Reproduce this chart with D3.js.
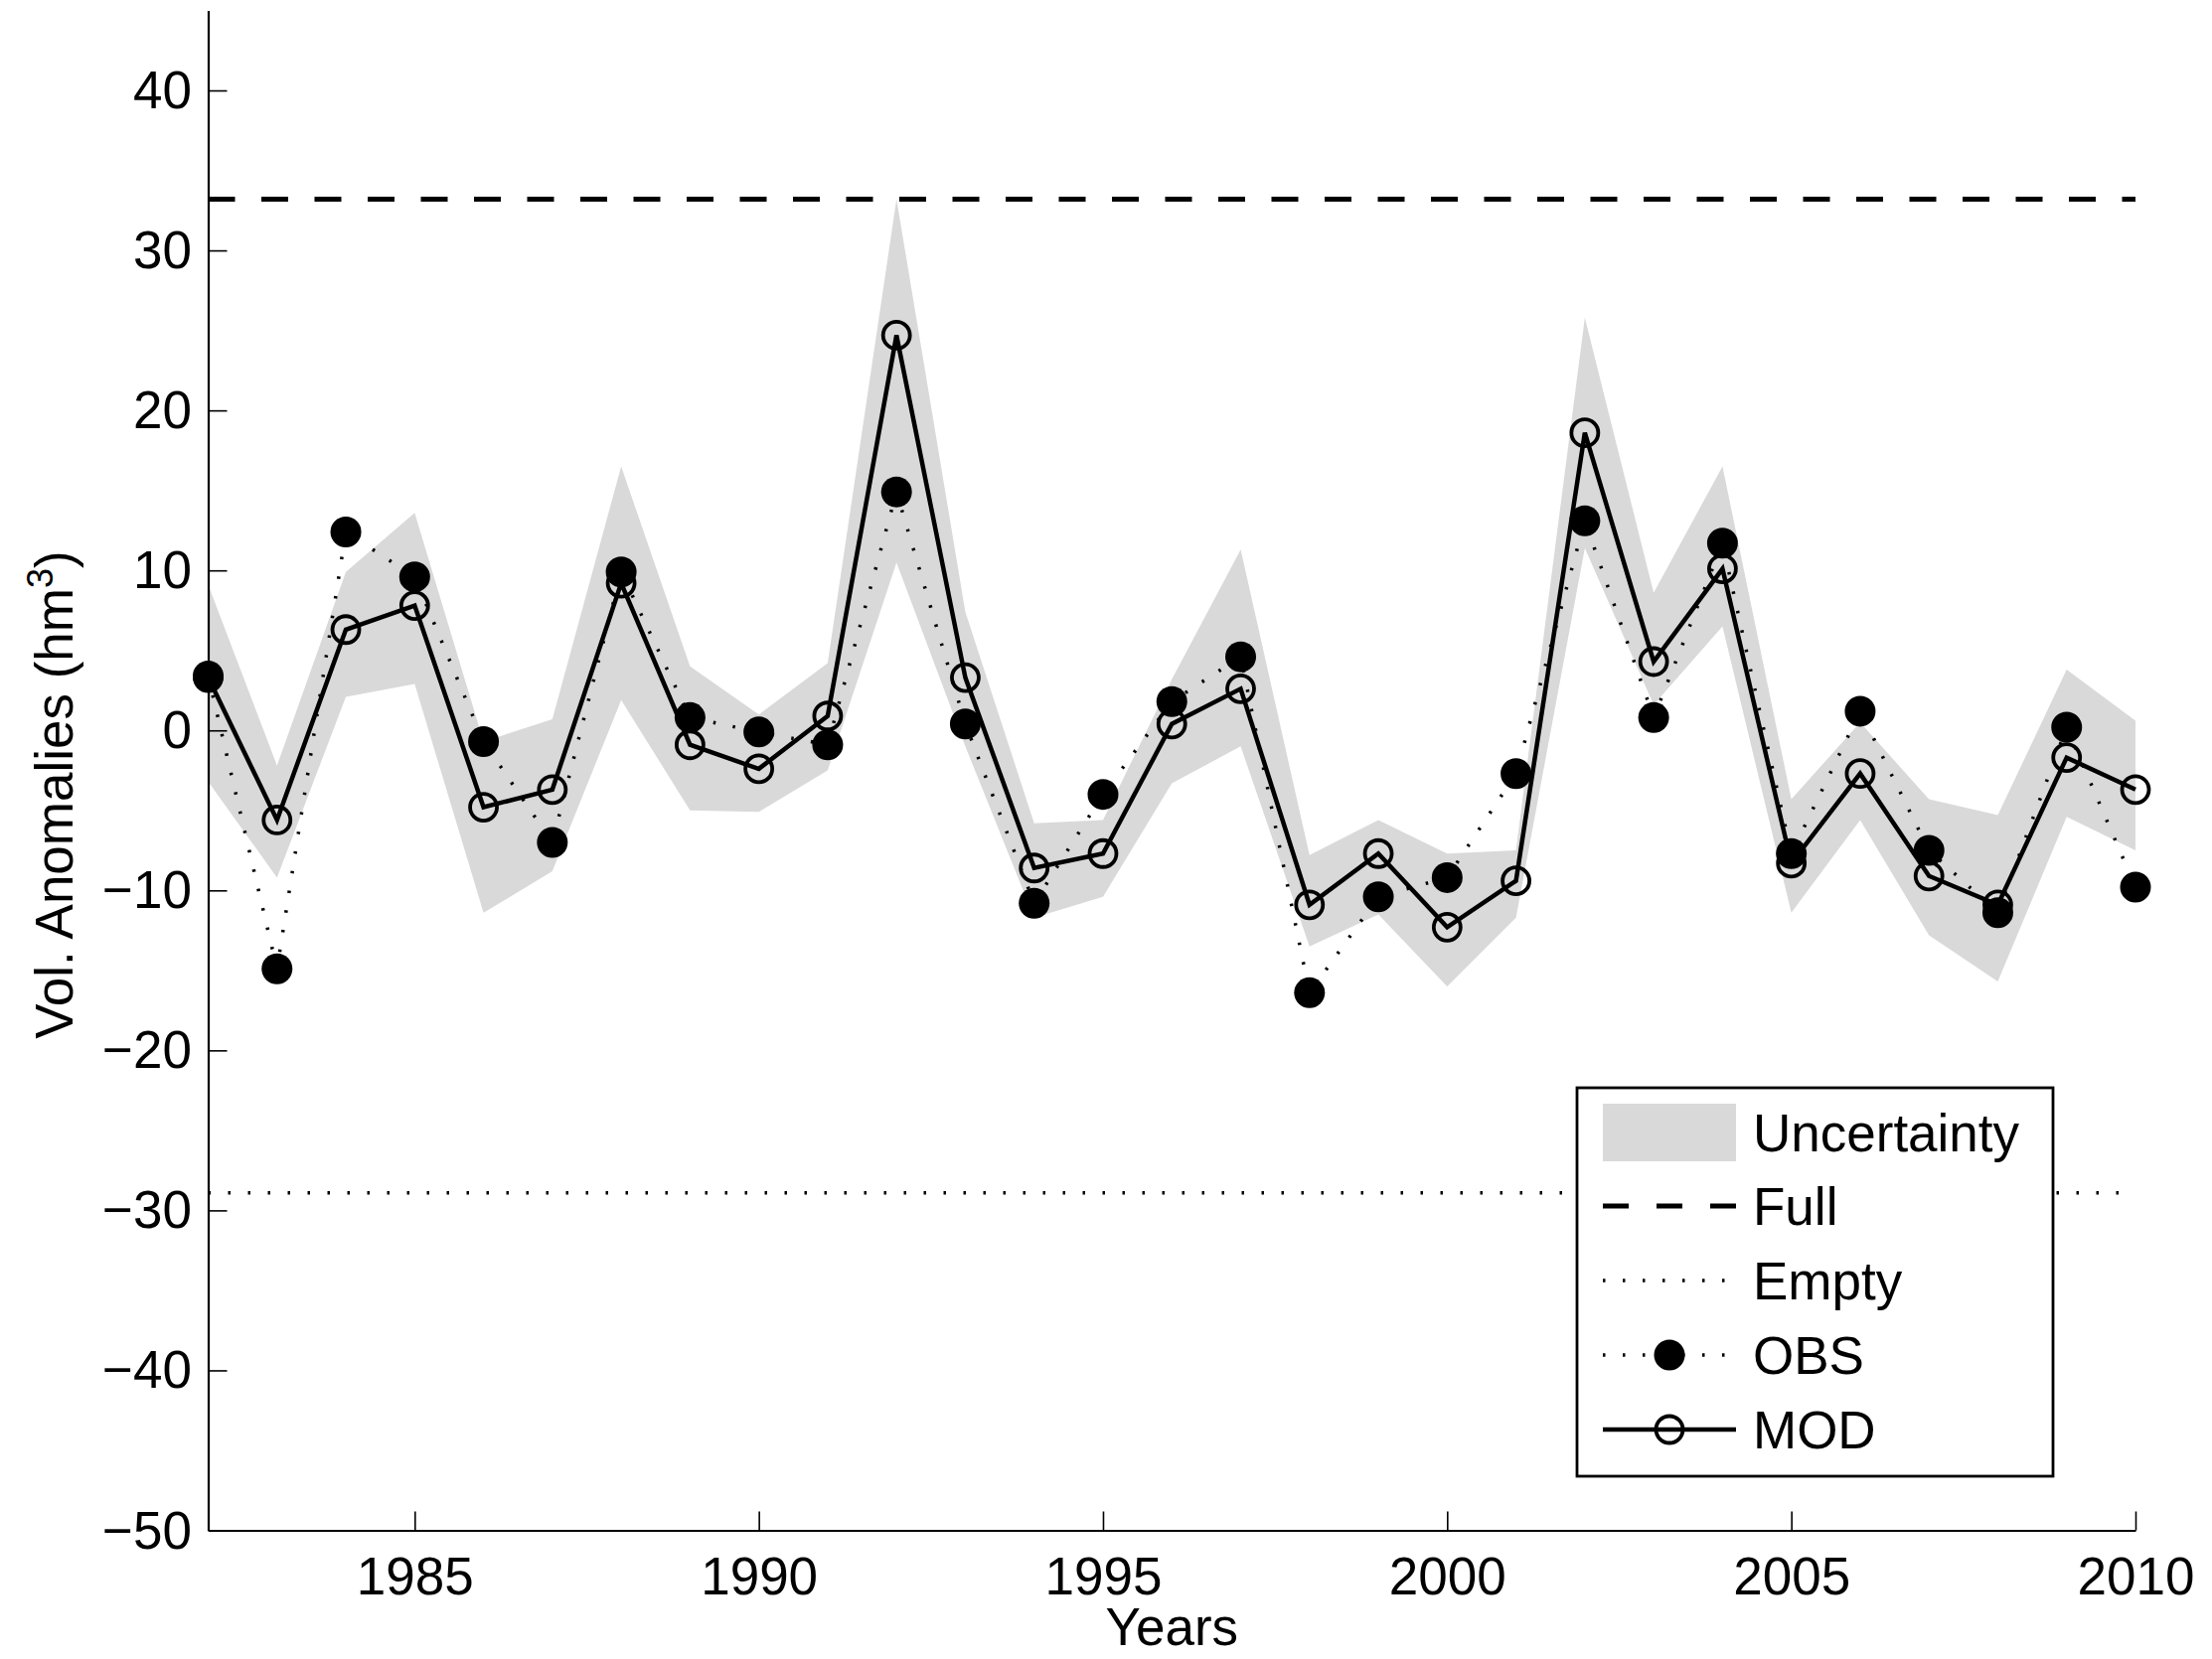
<!DOCTYPE html>
<html>
<head>
<meta charset="utf-8">
<script src="https://cdn.jsdelivr.net/npm/d3@7"></script>
<style>
  body { margin: 0; background: #fff; }
  svg text { font-family: "Liberation Sans", Arial, Helvetica, sans-serif; fill: #000; }
</style>
</head>
<body>
<div id="chart"></div>
<script>
// Data
const years = d3.range(1982, 2011);
const obs = [3.4, -14.9, 12.4, 9.6, -0.7, -7.0, 9.9, 0.8, -0.1, -0.9,
             14.9, 0.4, -10.8, -4.0, 1.8, 4.6, -16.4, -10.4, -9.2, -2.7,
             13.1, 0.8, 11.7, -7.7, 1.2, -7.5, -11.4, 0.2, -9.8];
const mod = [3.3, -5.6, 6.3, 7.8, -4.8, -3.7, 9.2, -0.9, -2.4, 0.9,
             24.7, 3.3, -8.6, -7.7, 0.4, 2.6, -10.9, -7.7, -12.3, -9.4,
             18.6, 4.3, 10.1, -8.3, -2.7, -9.1, -10.9, -1.7, -3.7];
const bandUpper = [9.1, -2.2, 9.9, 13.6, -0.7, 0.7, 16.5, 4.0, 1.0, 4.2,
                   33.2, 7.4, -5.8, -5.6, 3.2, 11.3, -7.8, -5.6, -7.7, -7.5,
                   25.8, 8.6, 16.5, -4.3, 0.5, -4.3, -5.3, 3.8, 0.6];
const bandLower = [-3.2, -9.2, 2.1, 2.9, -11.4, -8.8, 1.9, -5.0, -5.1, -2.5,
                   10.5, -1.0, -11.7, -10.4, -3.3, -1.0, -13.5, -11.5, -16.0, -11.7,
                   11.4, 1.6, 6.5, -11.4, -5.6, -12.8, -15.7, -5.4, -7.5];
const fullLevel = 33.2;
const emptyLevel = -28.9;
const xTicks = [1985, 1990, 1995, 2000, 2005, 2010];
const yTicks = [-50, -40, -30, -20, -10, 0, 10, 20, 30, 40];
const legendLabels = ["Uncertainty", "Full", "Empty", "OBS", "MOD"];

const W = 2226, H = 1670;
const fontSize = 53;
const gray = "#d9d9d9";
const dotted = "2.5,17.5";

const svg = d3.select("#chart")
  .append("svg")
    .attr("width", W)
    .attr("height", H);

// Scales
const x = d3.scaleLinear().domain([1982, 2010]).range([209.5, 2149]);
const y = d3.scaleLinear().domain([-50, 45]).range([1540.5, 10.5]);

const rows = years.map((yr, i) => ({year: yr, obs: obs[i], mod: mod[i], up: bandUpper[i], lo: bandLower[i]}));

// Uncertainty band
svg.append("path")
  .datum(rows)
  .attr("fill", gray)
  .attr("d", d3.area()
    .x(d => x(d.year))
    .y0(d => y(d.lo))
    .y1(d => y(d.up)));

// Full and empty reference lines
svg.append("line")
  .attr("x1", x(1982)).attr("x2", x(2010))
  .attr("y1", y(fullLevel)).attr("y2", y(fullLevel))
  .attr("stroke", "#000")
  .attr("stroke-width", 5)
  .attr("stroke-dasharray", "27,26.5");

svg.append("line")
  .attr("x1", x(1982)).attr("x2", x(2010))
  .attr("y1", y(emptyLevel)).attr("y2", y(emptyLevel))
  .attr("stroke", "#000")
  .attr("stroke-width", 3.5)
  .attr("stroke-dasharray", dotted);

// MOD: solid line with open circles
svg.append("path")
  .datum(rows)
  .attr("fill", "none")
  .attr("stroke", "#000")
  .attr("stroke-width", 4.5)
  .attr("stroke-linejoin", "miter")
  .attr("d", d3.line().x(d => x(d.year)).y(d => y(d.mod)));

svg.append("g")
  .selectAll("circle")
  .data(rows)
  .join("circle")
    .attr("cx", d => x(d.year))
    .attr("cy", d => y(d.mod))
    .attr("r", 13.5)
    .attr("fill", "none")
    .attr("stroke", "#000")
    .attr("stroke-width", 3.8);

// OBS: dotted line with filled circles
svg.append("path")
  .datum(rows)
  .attr("fill", "none")
  .attr("stroke", "#000")
  .attr("stroke-width", 3.5)
  .attr("stroke-dasharray", dotted)
  .attr("d", d3.line().x(d => x(d.year)).y(d => y(d.obs)));

svg.append("g")
  .selectAll("circle")
  .data(rows)
  .join("circle")
    .attr("cx", d => x(d.year))
    .attr("cy", d => y(d.obs))
    .attr("r", 15.5)
    .attr("fill", "#000");

// Axes (ticks point inward, no box)
const xAxis = svg.append("g")
  .attr("transform", `translate(0,${y(-50)})`)
  .call(d3.axisBottom(x)
    .tickValues(xTicks)
    .tickFormat(d3.format("d"))
    .tickSizeInner(-19)
    .tickSizeOuter(0)
    .tickPadding(27));

const yAxis = svg.append("g")
  .attr("transform", `translate(${x(1982)},0)`)
  .call(d3.axisLeft(y)
    .tickValues(yTicks)
    .tickSizeInner(-19)
    .tickSizeOuter(0)
    .tickPadding(16.5));

[xAxis, yAxis].forEach(g => {
  g.select(".domain").attr("stroke-width", 2.2);
  g.selectAll(".tick line").attr("stroke-width", 1.6);
  g.selectAll(".tick text")
    .style("font-size", fontSize + "px")
    .attr("font-family", null);
});
yAxis.selectAll(".tick text").attr("dy", "0.33em");

// Axis labels
svg.append("text")
  .attr("x", (x(1982) + x(2010)) / 2)
  .attr("y", 1656)
  .attr("text-anchor", "middle")
  .style("font-size", fontSize + "px")
  .text("Years");

const ylab = svg.append("text")
  .attr("transform", "translate(73,800) rotate(-90)")
  .attr("text-anchor", "middle")
  .style("font-size", fontSize + "px");
ylab.append("tspan").text("Vol. Anomalies (hm");
ylab.append("tspan").attr("baseline-shift", "super").style("font-size", "36px").text("3");
ylab.append("tspan").text(")");

// Legend
const lg = svg.append("g").attr("transform", "translate(1587,1095)");
lg.append("rect")
  .attr("width", 479).attr("height", 391)
  .attr("fill", "#fff")
  .attr("stroke", "#000")
  .attr("stroke-width", 2.8);

const rowY = [45, 119, 194, 269, 344];
const sx0 = 26, sx1 = 160, sxm = 93;

lg.append("rect")
  .attr("x", sx0).attr("y", rowY[0] - 29)
  .attr("width", sx1 - sx0).attr("height", 58)
  .attr("fill", gray);

lg.append("line")
  .attr("x1", sx0).attr("x2", sx1)
  .attr("y1", rowY[1]).attr("y2", rowY[1])
  .attr("stroke", "#000").attr("stroke-width", 5)
  .attr("stroke-dasharray", "26,28");

[2, 3].forEach(i => {
  lg.append("line")
    .attr("x1", sx0).attr("x2", sx1)
    .attr("y1", rowY[i]).attr("y2", rowY[i])
    .attr("stroke", "#000").attr("stroke-width", 3.5)
    .attr("stroke-dasharray", dotted);
});
lg.append("circle")
  .attr("cx", sxm).attr("cy", rowY[3]).attr("r", 15.5)
  .attr("fill", "#000");

lg.append("line")
  .attr("x1", sx0).attr("x2", sx1)
  .attr("y1", rowY[4]).attr("y2", rowY[4])
  .attr("stroke", "#000").attr("stroke-width", 4.5);
lg.append("circle")
  .attr("cx", sxm).attr("cy", rowY[4]).attr("r", 13.5)
  .attr("fill", "none")
  .attr("stroke", "#000").attr("stroke-width", 3.8);

lg.selectAll("text.leg")
  .data(legendLabels)
  .join("text")
    .attr("class", "leg")
    .attr("x", 177)
    .attr("y", (d, i) => rowY[i] + 19)
    .style("font-size", fontSize + "px")
    .text(d => d);
</script>
</body>
</html>
